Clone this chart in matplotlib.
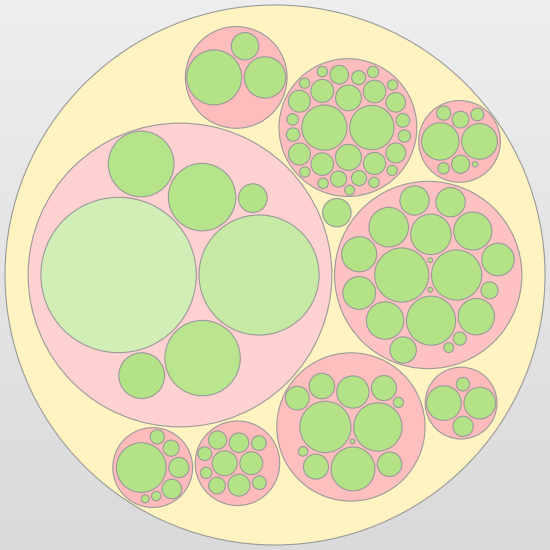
#! /usr/bin/env python
# -*- coding: utf-8 -*-

import math
import numpy as np
import matplotlib
matplotlib.use("Agg")
import matplotlib.pyplot as plt
from matplotlib.patches import Circle
from matplotlib.colors import to_rgb, LinearSegmentedColormap

# leaf sizes for each group (circle area ~ value), in drawing order
west = [6416, 3832, 1513, 1211, 1149, 557, 219]
east = [778, 671, 640, 437, 416, 384, 372, 353, 328, 286, 282, 228, 228, 77, 185, 46, 26, 6, 6]
south = [697, 620, 511, 276, 172, 166, 166, 159, 151, 28, 24, 6]
north = [543, 524, 180, 177, 139, 135, 135, 130, 128, 128, 106, 102, 92, 69, 61,
         53, 50, 48, 41, 35, 34, 29, 29, 29, 28, 28, 28, 28, 26]
north_west = [801, 454, 199]
south_2 = [166, 139, 128, 102, 88, 74, 58, 50, 50, 34]
south_west = [655, 108, 102, 69, 53, 23, 17]
north_east = [372, 339, 88, 74, 53, 44, 34, 8]
south_east = [320, 266, 108, 48]
lone_leaf = 215

root_children = [west, east, south, lone_leaf, north, north_west, south_2,
                 north_east, south_west, south_east]

# groups whose third circle sits above the first pair instead of below
third_above = [north_west]

PAD = 1.4


def tangent_spots(c1, c2, r):
    x1, y1, r1 = c1
    x2, y2, r2 = c2
    d1, d2 = r1 + r, r2 + r
    dx, dy = x2 - x1, y2 - y1
    d = math.hypot(dx, dy)
    if d == 0 or d > d1 + d2 or d < abs(d1 - d2):
        return []
    a = (d1 * d1 - d2 * d2 + d * d) / (2 * d)
    h = math.sqrt(max(0.0, d1 * d1 - a * a))
    ux, uy = dx / d, dy / d
    bx, by = x1 + a * ux, y1 + a * uy
    return [(bx - h * uy, by + h * ux), (bx + h * uy, by - h * ux)]


def pack(radii, up=False):
    # greedy packing: each circle goes to the free spot closest to the centre
    rs = [r + PAD for r in radii]
    if len(rs) == 1:
        pos = [(0.0, 0.0)]
    else:
        pos = [(-rs[1], 0.0), (rs[0], 0.0)]
        for k in range(2, len(rs)):
            r = rs[k]
            best = None
            for i in range(k):
                for j in range(i + 1, k):
                    for x, y in tangent_spots((pos[i][0], pos[i][1], rs[i]),
                                              (pos[j][0], pos[j][1], rs[j]), r):
                        ok = all(math.hypot(x - px, y - py) >= rs[m] + r - 1e-7
                                 for m, (px, py) in enumerate(pos))
                        if ok:
                            # on a tie the third circle goes below, later ones above
                            side = -y if (k == 2 and not up) else y
                            key = (round(math.hypot(x, y), 6), side)
                            if best is None or key < best[0]:
                                best = (key, (x, y))
            pos.append(best[1])
    R = max(math.hypot(x, y) + r for (x, y), r in zip(pos, rs))
    return pos, R


def lighten(color, t):
    c = np.array(to_rgb(color))
    return tuple(c + (1 - c) * t)


def leaf_color(r):
    t = 0.42 * min(max((r - 28) / 52, 0), 1) ** 1.2
    return lighten('#b4e387', t)


def group_color(r):
    t = 0.33 * min(max((r - 40) / 114, 0), 1) ** 1.5
    return lighten('#ffbbbb', t)


def main():
    # pack every group first, then the groups inside the root
    groups = []
    top_radii = []
    for child in root_children:
        if isinstance(child, list):
            radii = [math.sqrt(v) for v in child]
            up = any(child is g for g in third_above)
            pos, R = pack(radii, up)
            groups.append((pos, radii))
            top_radii.append(R)
        else:
            groups.append(None)
            top_radii.append(math.sqrt(child))
    top_pos, root_r = pack(top_radii)
    k = 270.0 / root_r
    cx, cy = 275.0, 275.0

    fig = plt.figure(figsize=(5.5, 5.5), dpi=100)
    ax = fig.add_axes([0, 0, 1, 1])
    grad = np.linspace(0, 1, 256).reshape(-1, 1)
    cmap = LinearSegmentedColormap.from_list('bg', ['#eeeeee', '#dadada'])
    ax.imshow(grad, extent=[0, 550, 550, 0], cmap=cmap, aspect='auto', zorder=0)

    edge = '#9a9a9a'
    lw = 0.8
    ax.add_patch(Circle((cx, cy), 270, facecolor='#fff3c1', edgecolor=edge, lw=lw, zorder=1))

    for g, (gx, gy), gr in zip(groups, top_pos, top_radii):
        x0, y0 = cx + k * gx, cy + k * gy
        r = gr * k
        if g is None:
            ax.add_patch(Circle((x0, y0), r, facecolor=leaf_color(r),
                                edgecolor=edge, lw=lw, zorder=2))
            continue
        ax.add_patch(Circle((x0, y0), r, facecolor=group_color(r),
                            edgecolor=edge, lw=lw, zorder=2))
        pos, radii = g
        for (lx, ly), lr in zip(pos, radii):
            rr = lr * k
            ax.add_patch(Circle((x0 + k * lx, y0 + k * ly), rr,
                                facecolor=leaf_color(rr),
                                edgecolor=edge, lw=lw, zorder=3))

    ax.set_xlim(0, 550)
    ax.set_ylim(550, 0)
    ax.axis('off')
    fig.savefig('out.png', dpi=100)


if __name__ == "__main__":
    main()
